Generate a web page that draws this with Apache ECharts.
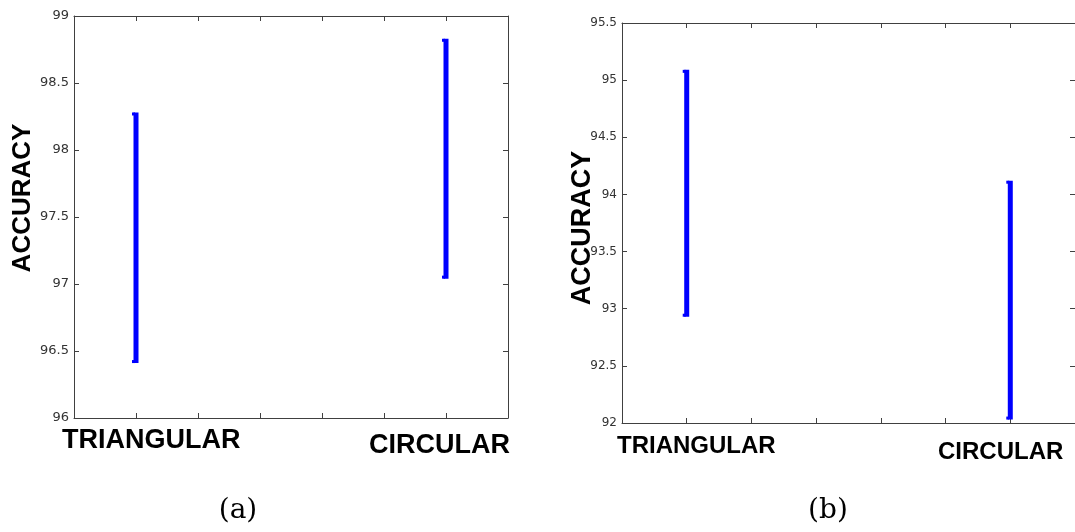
<!DOCTYPE html>
<html>
<head>
<meta charset="utf-8">
<script src="https://cdn.jsdelivr.net/npm/echarts@6/dist/echarts.min.js"></script>
<style>
    html, body { margin: 0; padding: 0; background: #fff; }
    #main { width: 1075px; height: 532px; }
</style>
</head>
<body>
<div id="main"></div>
<script type="text/javascript">
    // 类别和位置
    var categories = ['TRIANGULAR', 'CIRCULAR'];
    var xPositions = [1, 6];
    // (a) 图
    var lowA = [96.41, 97.04];
    var highA = [98.28, 98.83];
    // (b) 图
    var lowB = [92.93, 92.03];
    var highB = [95.09, 94.12];
    var captions = ['(a)', '(b)'];
    var yTitle = 'ACCURACY';

    var axisColor = '#404040';

    function makeData(low, high) {
        var arr = [];
        for (var i = 0; i < xPositions.length; i++) {
            arr.push([xPositions[i], low[i], high[i]]);
        }
        return arr;
    }

    // 竖线加小端帽
    function renderErr(params, api) {
        var x = api.value(0);
        var top = api.coord([x, api.value(2)]);
        var bot = api.coord([x, api.value(1)]);
        var blue = '#0000ff';
        return {
            type: 'group',
            children: [
                { type: 'line', shape: { x1: top[0], y1: top[1], x2: bot[0], y2: bot[1] },
                  style: { stroke: blue, lineWidth: 5 } },
                { type: 'rect', shape: { x: top[0] - 4, y: top[1], width: 3, height: 3 },
                  style: { fill: blue } },
                { type: 'rect', shape: { x: bot[0] - 4, y: bot[1] - 3, width: 3, height: 3 },
                  style: { fill: blue } }
            ]
        };
    }

    function xAxisCfg(g, pos) {
        return {
            gridIndex: g, type: 'value', position: pos, min: 0, max: 7, interval: 1,
            axisLine: { onZero: false, lineStyle: { color: axisColor, width: 1 } },
            axisTick: { inside: true, length: 5, lineStyle: { color: axisColor } },
            axisLabel: { show: false },
            splitLine: { show: false }
        };
    }

    function yAxisCfg(g, pos, min, max, fs) {
        return {
            gridIndex: g, type: 'value', position: pos, min: min, max: max, interval: 0.5,
            axisLine: { show: true, onZero: false, lineStyle: { color: axisColor, width: 1 } },
            axisTick: { show: true, inside: true, length: 5, lineStyle: { color: axisColor } },
            axisLabel: { show: pos === 'left', color: '#333', fontFamily: 'DejaVu Sans', fontSize: fs, margin: 5 },
            splitLine: { show: false }
        };
    }

    function boldFont(size) {
        return 'bold ' + size + 'px "Liberation Sans", Arial, sans-serif';
    }

    var myChart = echarts.init(document.getElementById('main'));
    var option = {
        animation: false,
        backgroundColor: '#fff',
        grid: [
            { left: 74, top: 16, width: 434, height: 402 },
            { left: 622, top: 23, width: 454, height: 400 }
        ],
        xAxis: [xAxisCfg(0, 'bottom'), xAxisCfg(0, 'top'), xAxisCfg(1, 'bottom'), xAxisCfg(1, 'top')],
        yAxis: [yAxisCfg(0, 'left', 96, 99, 13), yAxisCfg(0, 'right', 96, 99, 13),
                yAxisCfg(1, 'left', 92, 95.5, 12), yAxisCfg(1, 'right', 92, 95.5, 12)],
        series: [
            { type: 'custom', xAxisIndex: 0, yAxisIndex: 0, renderItem: renderErr,
              encode: { x: 0, y: [1, 2] }, data: makeData(lowA, highA) },
            { type: 'custom', xAxisIndex: 2, yAxisIndex: 2, renderItem: renderErr,
              encode: { x: 0, y: [1, 2] }, data: makeData(lowB, highB) }
        ],
        graphic: [
            // y 轴标题
            { type: 'text', x: 23, y: 198, rotation: Math.PI / 2,
              style: { text: yTitle, font: boldFont(26), fill: '#000', align: 'center', verticalAlign: 'middle' } },
            { type: 'text', x: 583, y: 228, rotation: Math.PI / 2,
              style: { text: yTitle, font: boldFont(27), fill: '#000', align: 'center', verticalAlign: 'middle' } },
            // 类别标签
            { type: 'text', x: 62, y: 441,
              style: { text: categories[0], font: boldFont(27), fill: '#000', align: 'left', verticalAlign: 'middle' } },
            { type: 'text', x: 369, y: 446,
              style: { text: categories[1], font: boldFont(27), fill: '#000', align: 'left', verticalAlign: 'middle' } },
            { type: 'text', x: 617, y: 446,
              style: { text: categories[0], font: boldFont(24), fill: '#000', align: 'left', verticalAlign: 'middle' } },
            { type: 'text', x: 938, y: 452,
              style: { text: categories[1], font: boldFont(24), fill: '#000', align: 'left', verticalAlign: 'middle' } },
            // 图注
            { type: 'text', x: 238, y: 511,
              style: { text: captions[0], font: '28px "DejaVu Serif", serif', fill: '#000', align: 'center', verticalAlign: 'middle' } },
            { type: 'text', x: 828, y: 511,
              style: { text: captions[1], font: '28px "DejaVu Serif", serif', fill: '#000', align: 'center', verticalAlign: 'middle' } }
        ]
    };
    myChart.setOption(option);
</script>
</body>
</html>
